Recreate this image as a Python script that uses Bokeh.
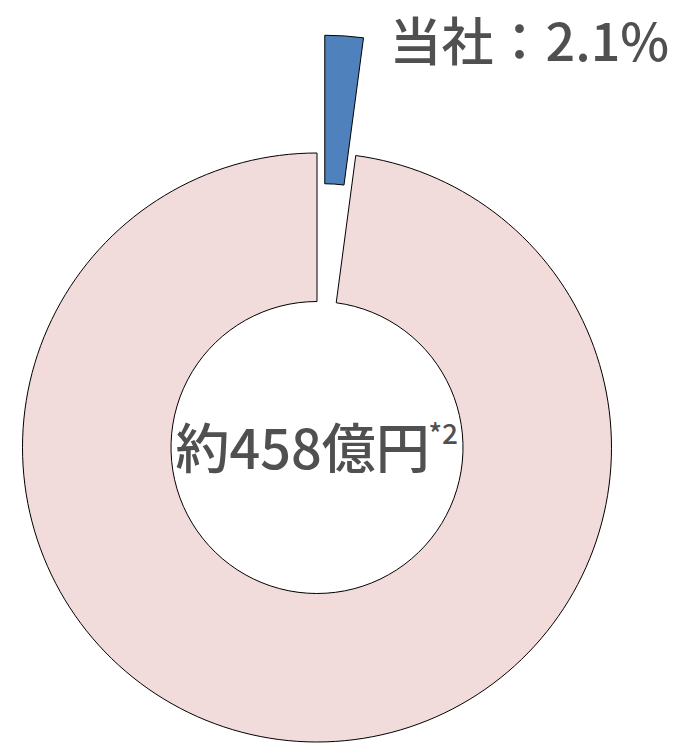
import numpy as np
from bokeh.plotting import figure
from bokeh.models import Range1d, ColumnDataSource
from bokeh.core.properties import value
from bokeh.embed import file_html
from bokeh.resources import INLINE

# ---- data ----
categories = ["当社", "その他"]
shares = [2.1, 97.9]          # percent
colors = ["#4F81BD", "#F2DCDB"]
explode = [118, 0]            # pixels of offset for exploded slice
label_text = "当社：2.1%"
center_text = "約458億円"
center_note = "*2"

W, H = 685, 745
p = figure(width=W, height=H, output_backend="svg", toolbar_location=None,
           x_range=Range1d(0, W), y_range=Range1d(750 - H, 750),
           min_border=0)
p.axis.visible = False
p.grid.visible = False
p.outline_line_color = None
p.background_fill_color = "white"
p.border_fill_color = "white"

cx, cy = 316.5, 750 - 447
r_out, r_in = 294.5, 146

frac = np.array(shares) / sum(shares)
ends_cum = np.cumsum(frac)
starts = np.pi / 2 - (ends_cum - frac) * 2 * np.pi
ends = np.pi / 2 - ends_cum * 2 * np.pi
mid = (starts + ends) / 2
off = np.array(explode, dtype=float)
xs = cx + off * np.cos(mid)
ys = cy + off * np.sin(mid)

src = ColumnDataSource(dict(x=xs, y=ys, start=starts, end=ends, color=colors, cat=categories))
p.annular_wedge(x="x", y="y", inner_radius=r_in, outer_radius=r_out,
                start_angle="start", end_angle="end", direction="clock",
                fill_color="color", line_color="black", line_width=1, source=src)

font = value("Noto Sans CJK JP Medium, Noto Sans CJK JP")
p.text(x=[389], y=[750 - 38], text=[label_text], text_font=font,
       text_font_size="52px", text_color="#505050",
       text_align="left", text_baseline="middle")
p.text(x=[175], y=[750 - 445], text=[center_text], text_font=font,
       text_font_size="54px", text_color="#505050",
       text_align="left", text_baseline="middle")
p.text(x=[428], y=[750 - 431], text=[center_note], text_font=font,
       text_font_size="28px", text_color="#505050",
       text_align="left", text_baseline="middle")

open("out.html", "w").write(file_html(p, INLINE))
